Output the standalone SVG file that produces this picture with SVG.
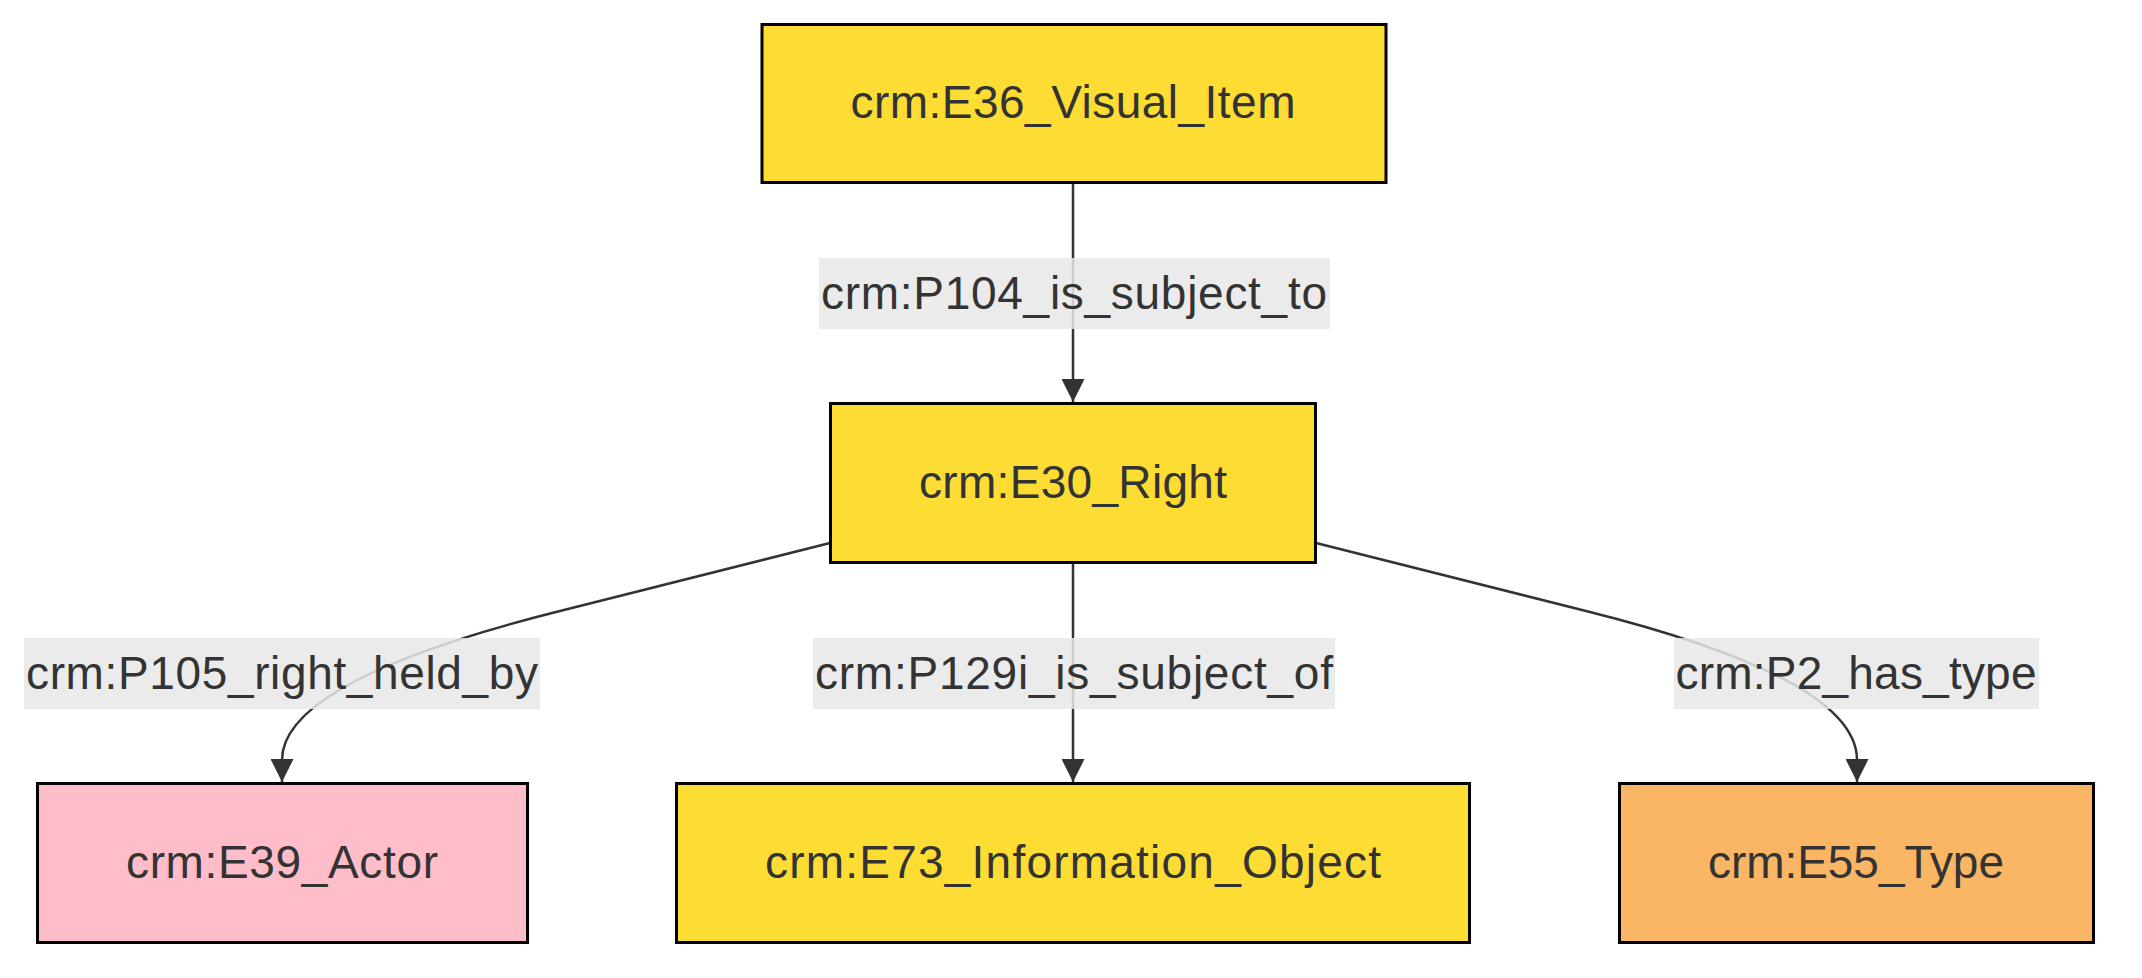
<svg xmlns="http://www.w3.org/2000/svg" width="2142" height="978" viewBox="0 0 2142 978">
<style>
  .node rect { stroke: #000; stroke-width: 3; }
  .yellow { fill: #fddc34; }
  .pink { fill: #ffbdca; }
  .orange { fill: #fab565; }
  .t { font-family: "Liberation Sans", Arial, sans-serif; font-size: 46px; fill: #333; text-anchor: middle; }
  .edge { fill: none; stroke: #333; stroke-width: 2.5; }
  .lbl rect { fill: #e8e8e8; opacity: 0.85; }
</style>
<defs>
  <marker id="arrow" viewBox="0 0 10 10" refX="10" refY="5" markerWidth="24" markerHeight="23" markerUnits="userSpaceOnUse" orient="auto">
    <path d="M0,0 L10,5 L0,10 z" fill="#333"/>
  </marker>
</defs>
<rect width="2142" height="978" fill="#fff"/>
<g id="connectors">
  <path class="edge" d="M1073,184 L1073,402" marker-end="url(#arrow)"/>
  <path class="edge" d="M1073,564 L1073,782" marker-end="url(#arrow)"/>
  <path class="edge" d="M830,543 L560,611 C400,651 282,700 282,760 L282,782" marker-end="url(#arrow)"/>
  <path class="edge" d="M1316,543 L1586,611 C1746,651 1857,700 1857,760 L1857,782" marker-end="url(#arrow)"/>
  <g class="lbl" id="label-p104">
    <rect x="819" y="258" width="511" height="71"/>
    <text class="t" x="1074" y="309" textLength="506" lengthAdjust="spacing">crm:P104_is_subject_to</text>
  </g>
  <g class="lbl" id="label-p105">
    <rect x="24" y="638" width="516" height="71"/>
    <text class="t" x="282" y="689" textLength="512" lengthAdjust="spacing">crm:P105_right_held_by</text>
  </g>
  <g class="lbl" id="label-p129i">
    <rect x="813" y="638" width="522" height="71"/>
    <text class="t" x="1074" y="689" textLength="518" lengthAdjust="spacing">crm:P129i_is_subject_of</text>
  </g>
  <g class="lbl" id="label-p2">
    <rect x="1674" y="638" width="365" height="71"/>
    <text class="t" x="1856" y="689" textLength="361" lengthAdjust="spacing">crm:P2_has_type</text>
  </g>
</g>
<g id="node-E36" class="node">
  <rect class="yellow" x="762" y="24.5" width="624" height="158"/>
  <text class="t" x="1073" y="118" textLength="445" lengthAdjust="spacing">crm:E36_Visual_Item</text>
</g>
<g id="node-E30" class="node">
  <rect class="yellow" x="830.5" y="403.5" width="485" height="159"/>
  <text class="t" x="1073" y="498" textLength="308" lengthAdjust="spacing">crm:E30_Right</text>
</g>
<g id="node-E39" class="node">
  <rect class="pink" x="37.5" y="783.5" width="490" height="159"/>
  <text class="t" x="282" y="878" textLength="312" lengthAdjust="spacing">crm:E39_Actor</text>
</g>
<g id="node-E73" class="node">
  <rect class="yellow" x="676.5" y="783.5" width="793" height="159"/>
  <text class="t" x="1073" y="878" textLength="616" lengthAdjust="spacing">crm:E73_Information_Object</text>
</g>
<g id="node-E55" class="node">
  <rect class="orange" x="1619.5" y="783.5" width="474" height="159"/>
  <text class="t" x="1856" y="878" textLength="296" lengthAdjust="spacing">crm:E55_Type</text>
</g>
</svg>
